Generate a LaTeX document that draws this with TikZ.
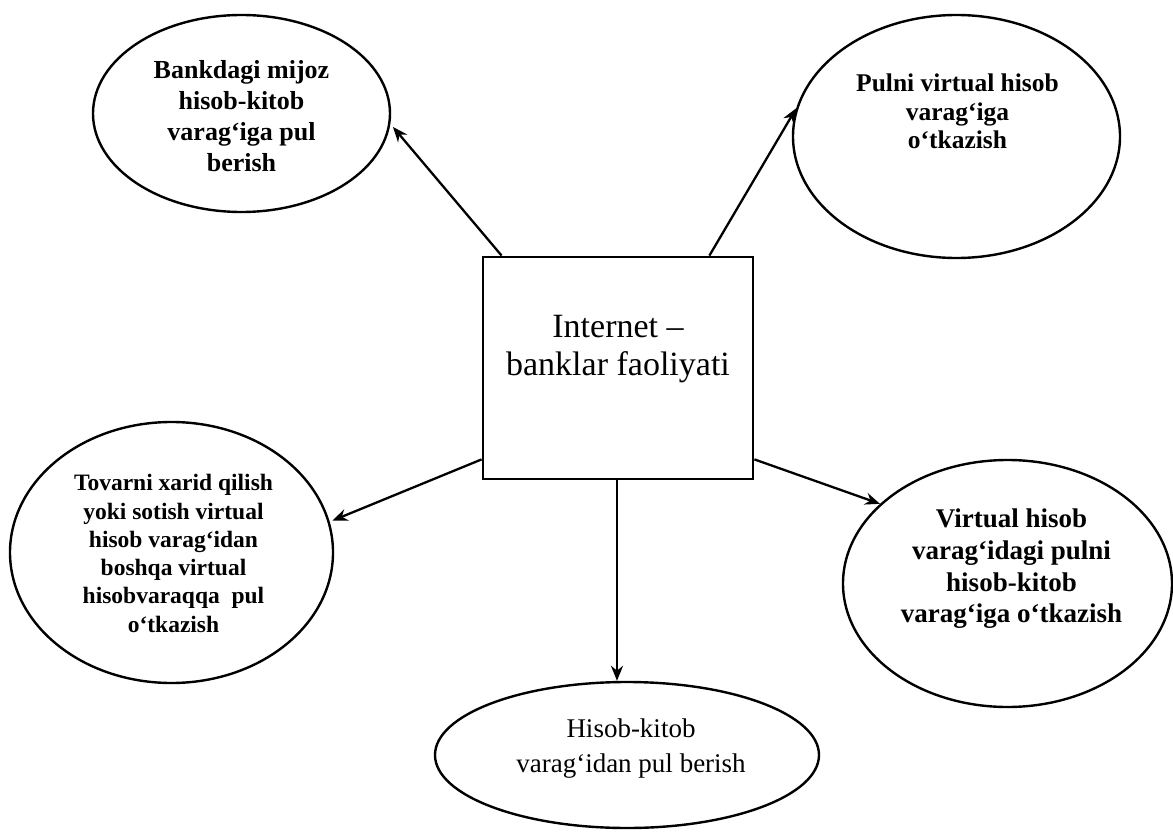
\documentclass[tikz,border=0pt]{standalone}
\usepackage{fontspec}
\setmainfont{Liberation Serif}
\usetikzlibrary{shapes.geometric,arrows.meta}
\begin{document}
\begin{tikzpicture}[x=1pt,y=-1pt,
  ell/.style={draw, ellipse, line width=2.4pt, inner sep=0pt},
  txt/.style={align=center, inner sep=0pt},
  arr/.style={-{Stealth[length=15pt,width=12pt]}, line width=2.3pt},
]
\useasboundingbox[fill=white] (0,0) rectangle (1173,832);

% central box
\node[draw, line width=2.8pt, minimum width=270pt, minimum height=222pt, inner sep=0pt] (box) at (618,368) {};
\node[txt, font=\fontsize{34}{38}\selectfont] (boxt) at (618,349) {Internet –\\banklar faoliyati};

% ellipses
\node[ell, minimum width=297pt, minimum height=197pt] (tl) at (241.5,113.5) {};
\node[txt, font=\bfseries\fontsize{26}{31}\selectfont] (tlt) at (241.5,116.5)
  {Bankdagi mijoz\\hisob-kitob\\varag‘iga pul\\berish};

\node[ell, minimum width=327pt, minimum height=243pt] (tr) at (956.5,136.5) {};
\node[txt, font=\bfseries\fontsize{25.5}{28.5}\selectfont] (trt) at (957.5,111.5)
  {Pulni virtual hisob\\varag‘iga\\o‘tkazish};

\node[ell, minimum width=323pt, minimum height=261pt] (l) at (171.5,552.5) {};
\node[txt, font=\bfseries\fontsize{23.5}{28.3}\selectfont] (lt) at (173.5,553.5)
  {Tovarni xarid qilish\\yoki sotish virtual\\hisob varag‘idan\\boshqa virtual\\hisobvaraqqa\ \ pul\\o‘tkazish};

\node[ell, minimum width=329pt, minimum height=247pt] (r) at (1007.5,583.5) {};
\node[txt, font=\bfseries\fontsize{27}{31.7}\selectfont] (rt) at (1011.5,569)
  {Virtual hisob\\varag‘idagi pulni\\hisob-kitob\\varag‘iga o‘tkazish};

\node[ell, minimum width=384pt, minimum height=146pt] (b) at (627,755) {};
\node[txt, font=\fontsize{27}{35}\selectfont] (bt) at (631,749)
  {Hisob-kitob\\varag‘idan pul berish};

% connectors
\draw[arr, shorten >=4pt] ([xshift=20pt]box.north west) -- (tl.-4);
\draw[arr] ([xshift=-45pt]box.north east) -- (tr.170);
\draw[arr, shorten >=3pt] ([yshift=21pt]box.south west) -- (l.11);
\draw[arr] ([yshift=21pt]box.south east) -- (r.148);
\draw[arr] ([xshift=-1pt]box.south) -- ([xshift=-1pt]box.south |- b.north);
\end{tikzpicture}
\end{document}
